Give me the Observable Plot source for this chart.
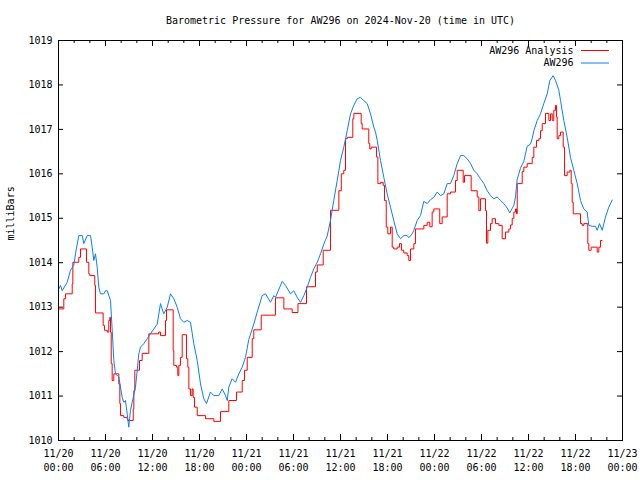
<!DOCTYPE html>
<html><head><meta charset="utf-8">
<script src="https://cdn.jsdelivr.net/npm/d3@7"></script>
<script src="https://cdn.jsdelivr.net/npm/@observablehq/plot@0.6"></script>
<style>body{margin:0;background:#fff} svg{display:block}</style>
</head><body><div id="chart"></div>
<script>
const title = "Barometric Pressure for AW296 on 2024-Nov-20 (time in UTC)";
const yLabel = "milliBars";
const startTime = "2024-11-20T00:00:00Z";
const endTime = "2024-11-23T00:00:00Z";
const yTicks = [1010, 1011, 1012, 1013, 1014, 1015, 1016, 1017, 1018, 1019];
const seriesNames = ["AW296 Analysis", "AW296"];
const seriesColors = ["#ff0000", "#0a80f0"];

// [hours since start, millibars]
const analysisSeries = [
[0,1012.96],[0.68,1013.19],[0.89,1013.30],[1.75,1013.52],[1.83,1014.01],[2.59,1014.12],[2.81,1014.31],[3.57,1014.01],[3.87,1013.75],[4.0,1013.71],
[4.63,1013.49],[4.72,1012.87],[5.70,1012.59],[5.87,1012.48],[6.22,1012.44],[6.42,1012.70],[6.55,1012.77],[6.64,1012.44],[6.73,1011.73],[6.85,1011.35],
[7.06,1011.50],[7.70,1011.27],[7.83,1010.83],[7.92,1010.56],[8.34,1010.52],[8.77,1010.49],[8.85,1010.45],[9.54,1010.71],[9.62,1011.12],[9.74,1011.58],
[10.34,1011.80],[10.68,1011.96],[11.53,1012.40],[12.79,1012.44],[13.02,1012.36],[13.66,1012.70],[13.79,1012.94],[14.64,1012.03],[14.72,1011.69],[15.06,1011.65],
[15.23,1011.46],[15.36,1011.69],[15.57,1011.87],[15.79,1012.38],[16.34,1011.84],[16.51,1011.65],[16.64,1011.16],[16.85,1011.01],[17.06,1011.16],[17.19,1010.97],
[17.36,1010.75],[17.71,1010.56],[18.77,1010.49],[19.83,1010.43],[20.68,1010.65],[21.74,1010.90],[22.72,1011.09],[23.45,1011.35],[23.74,1011.58],[24.09,1011.87],
[24.73,1012.29],[24.93,1012.49],[25.88,1012.82],[27.70,1013.21],[28.77,1012.96],[29.83,1012.88],[30.57,1013.08],[31.66,1013.46],[32.81,1013.79],[33.03,1013.95],
[33.79,1014.28],[34.72,1015.18],[35.79,1015.62],[36.10,1016.00],[36.42,1016.08],[36.64,1016.79],[36.86,1016.82],[37.57,1017.24],[37.70,1017.36],[38.64,1017.13],
[38.77,1017.01],[39.61,1016.68],[39.74,1016.56],[39.92,1016.60],[40.60,1016.38],[40.77,1015.78],[41.11,1015.81],[41.45,1015.74],[41.62,1015.40],[41.84,1014.80],
[42.04,1014.65],[42.38,1014.80],[42.60,1014.35],[42.80,1014.31],[43.24,1014.35],[43.53,1014.43],[43.79,1014.28],[44.08,1014.22],[44.51,1014.16],[44.72,1014.05],
[44.94,1014.31],[45.36,1014.43],[45.57,1014.76],[46.64,1014.84],[47.07,1014.91],[47.40,1014.81],[47.70,1015.14],[47.91,1015.21],[48.67,1014.88],[48.98,1015.03],
[49.62,1015.55],[50.04,1015.59],[50.68,1015.85],[50.90,1016.08],[51.66,1015.81],[51.83,1015.96],[52.68,1015.62],[53.45,1015.48],[53.66,1015.17],[53.87,1015.44],
[54.51,1015.17],[54.64,1014.44],[54.81,1014.73],[55.15,1014.88],[55.36,1014.99],[55.79,1014.88],[56.21,1014.84],[56.64,1014.54],[57.06,1014.69],[57.49,1014.76],
[57.70,1014.85],[57.92,1015.00],[58.13,1015.14],[58.34,1015.21],[58.47,1015.10],[58.56,1015.78],[59.20,1016.05],[59.40,1016.15],[59.83,1016.23],[60.47,1016.37],
[60.68,1016.60],[61.02,1016.75],[61.32,1016.79],[61.53,1016.97],[61.75,1017.13],[62.17,1017.36],[62.60,1017.20],[62.81,1017.35],[63.03,1017.20],[63.23,1017.43],
[63.45,1017.54],[63.58,1017.28],[63.66,1016.79],[63.87,1016.86],[64.09,1016.94],[64.43,1016.60],[64.60,1015.96],[64.94,1016.04],[65.28,1016.08],[65.45,1015.78],
[65.58,1015.36],[65.71,1015.10],[66.64,1014.88],[66.85,1014.84],[67.06,1014.88],[67.57,1014.43],[67.70,1014.28],[68.00,1014.35],[68.77,1014.24],[68.98,1014.35],
[69.19,1014.50],[69.41,1014.50]
];

const stationSeries = [
[0.04,1013.41],[0.26,1013.49],[0.47,1013.37],[1.11,1013.56],[1.53,1013.83],[1.95,1013.94],[2.17,1014.20],[2.59,1014.61],[3.03,1014.61],[3.23,1014.43],
[3.66,1014.61],[4.09,1014.61],[4.30,1014.35],[4.51,1014.05],[4.72,1014.20],[4.94,1013.90],[5.14,1013.45],[5.36,1013.30],[5.78,1013.30],[6.0,1013.37],
[6.22,1013.37],[6.64,1013.15],[6.86,1012.47],[7.06,1011.80],[7.28,1011.50],[7.70,1011.43],[8.13,1010.97],[8.34,1010.86],[8.55,1010.90],[8.77,1010.60],
[8.97,1010.30],[9.19,1010.68],[9.41,1010.86],[9.83,1011.20],[10.05,1011.58],[10.25,1011.95],[10.47,1012.10],[10.89,1012.18],[11.32,1012.29],[11.74,1012.40],
[12.60,1012.62],[13.02,1013.08],[13.44,1012.85],[13.88,1013.00],[14.30,1013.30],[14.72,1013.19],[15.15,1013.00],[15.57,1012.74],[16.0,1012.66],[16.43,1012.70],
[16.85,1012.66],[17.27,1012.18],[17.71,1011.80],[18.13,1011.27],[18.55,1010.94],[18.89,1010.83],[19.40,1011.09],[19.83,1011.01],[20.46,1011.01],[20.90,1011.16],
[21.32,1011.01],[21.54,1010.90],[21.74,1011.20],[22.17,1011.39],[22.60,1011.31],[23.02,1011.50],[23.45,1011.65],[23.87,1011.87],[24.29,1012.27],[24.93,1012.62],
[25.37,1012.89],[26.0,1013.26],[26.43,1013.30],[27.06,1013.11],[27.49,1013.26],[27.70,1013.22],[28.56,1013.58],[28.98,1013.49],[29.62,1013.30],[30.04,1013.37],
[30.47,1013.22],[30.89,1013.11],[31.32,1013.26],[31.75,1013.45],[32.17,1013.67],[32.59,1013.86],[33.03,1014.01],[33.45,1014.20],[33.87,1014.42],[34.30,1014.60],
[34.72,1014.95],[35.14,1015.40],[35.58,1015.85],[36.0,1016.30],[36.42,1016.60],[36.86,1016.97],[37.28,1017.35],[37.70,1017.54],[38.13,1017.69],[38.55,1017.72],
[38.97,1017.65],[39.41,1017.58],[39.83,1017.35],[40.25,1017.05],[40.47,1016.94],[40.69,1016.75],[41.11,1016.30],[41.53,1015.92],[41.96,1015.55],[42.38,1015.25],
[42.80,1014.95],[43.24,1014.65],[43.66,1014.54],[44.08,1014.61],[44.51,1014.61],[44.72,1014.56],[45.15,1014.65],[45.36,1014.73],[45.79,1014.95],[46.21,1015.06],
[46.63,1015.38],[47.07,1015.33],[47.49,1015.42],[47.91,1015.47],[48.34,1015.59],[48.77,1015.51],[49.19,1015.55],[49.62,1015.78],[50.04,1015.78],[50.46,1015.96],
[50.90,1016.23],[51.32,1016.41],[51.74,1016.41],[52.17,1016.34],[52.60,1016.23],[53.02,1016.08],[53.45,1016.00],[53.87,1015.89],[54.30,1015.78],[54.73,1015.62],
[55.15,1015.51],[55.57,1015.44],[56.0,1015.48],[56.43,1015.40],[56.85,1015.33],[57.28,1015.23],[57.61,1015.12],[58.13,1015.29],[58.34,1015.48],[58.56,1015.88],
[58.98,1016.13],[59.40,1016.28],[59.83,1016.62],[60.26,1016.67],[60.47,1016.79],[60.68,1016.97],[61.11,1017.20],[61.53,1017.35],[61.95,1017.58],[62.39,1017.80],
[62.72,1018.10],[63.15,1018.21],[63.45,1018.10],[63.87,1017.88],[64.09,1017.65],[64.51,1017.20],[64.94,1016.82],[65.36,1016.37],[65.78,1016.08],[66.22,1015.78],
[66.64,1015.40],[67.06,1015.21],[67.49,1015.14],[67.70,1014.84],[68.13,1014.82],[68.55,1014.82],[68.77,1014.73],[69.06,1014.88],[69.41,1014.73],[69.83,1015.03],
[70.25,1015.25],[70.69,1015.41]
];

const t0 = new Date(startTime), t1 = new Date(endTime);
const toRows = (arr, name) => arr.map(([h, v]) => ({time: new Date(+t0 + h * 3600e3), value: v, series: name}));
const analysisRows = toRows(analysisSeries, seriesNames[0]);
const stationRows = toRows(stationSeries, seriesNames[1]);
const majorTicks = d3.utcHour.every(6).range(t0, new Date(+t1 + 1));
const minorTicks = d3.utcHour.every(2).range(t0, new Date(+t1 + 1));
const yMin = yTicks[0], yMax = yTicks[yTicks.length - 1];

const W = 640, H = 480, mL = 58, mR = 18, mT = 40, mB = 40;
const innerW = W - mL - mR, innerH = H - mT - mB;
const fmt = d3.utcFormat("%m/%d\n%H:%M");

const chart = Plot.plot({
  width: W, height: H,
  marginLeft: mL, marginRight: mR, marginTop: mT, marginBottom: mB,
  style: {fontFamily: "'DejaVu Sans Mono', monospace", fontSize: "10px", background: "#fff", color: "#000"},
  x: {type: "utc", domain: [t0, t1]},
  y: {domain: [yMin, yMax]},
  marks: [
    Plot.ruleX(minorTicks, {x: d => d, insetTop: innerH - 3, stroke: "#000"}),
    Plot.ruleX(minorTicks, {x: d => d, insetBottom: innerH - 3, stroke: "#000"}),
    Plot.ruleX(majorTicks, {x: d => d, insetTop: innerH - 6, stroke: "#000"}),
    Plot.ruleX(majorTicks, {x: d => d, insetBottom: innerH - 6, stroke: "#000"}),
    Plot.ruleY(yTicks, {y: d => d, insetRight: innerW - 5, stroke: "#000"}),
    Plot.ruleY(yTicks, {y: d => d, insetLeft: innerW - 5, stroke: "#000"}),
    Plot.axisX({ticks: majorTicks, tickFormat: fmt, tickSize: 0, tickPadding: 7, lineHeight: 1.4, label: null}),
    Plot.axisY({ticks: yTicks, tickFormat: d => String(d), tickSize: 0, tickPadding: 6, label: null}),
    Plot.line(analysisRows, {x: "time", y: "value", stroke: seriesColors[0], strokeWidth: 1, curve: "step-after"}),
    Plot.line(stationRows, {x: "time", y: "value", stroke: seriesColors[1], strokeWidth: 1}),
    Plot.frame({stroke: "#000"}),
    Plot.text([title], {frameAnchor: "top", lineAnchor: "middle", dy: -20}),
    Plot.text([yLabel], {frameAnchor: "left", lineAnchor: "middle", rotate: -90, dx: -48}),
    Plot.text([seriesNames[0]], {frameAnchor: "top-right", textAnchor: "end", lineAnchor: "middle", dx: -49, dy: 10}),
    Plot.text([seriesNames[1]], {frameAnchor: "top-right", textAnchor: "end", lineAnchor: "middle", dx: -49, dy: 22.5}),
    Plot.ruleY([yMax], {y: d => d, insetLeft: 523, insetRight: 13, dy: 10, stroke: seriesColors[0]}),
    Plot.ruleY([yMax], {y: d => d, insetLeft: 523, insetRight: 13, dy: 22.5, stroke: seriesColors[1]})
  ]
});
document.getElementById("chart").appendChild(chart);
</script>
</body></html>
